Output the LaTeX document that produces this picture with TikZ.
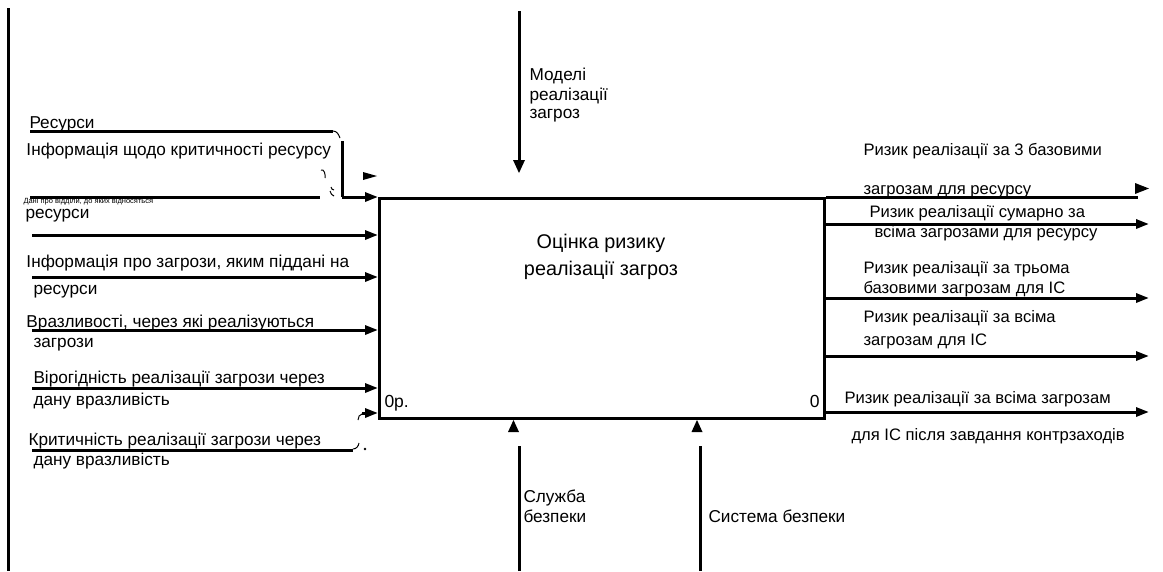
\documentclass[tikz,border=0pt]{standalone}
\usepackage{fontspec}
\setmainfont{Liberation Sans}
\usetikzlibrary{arrows.meta}
\begin{document}
\begin{tikzpicture}[x=1pt,y=-1pt,line width=3pt,
  lbl/.style={font=\fontsize{17.2}{19}\selectfont,inner sep=0pt,anchor=base west},
  rlbl/.style={font=\fontsize{16.6}{19}\selectfont,inner sep=0pt,anchor=base west},
  tiny/.style={font=\fontsize{7.5}{9}\selectfont,inner sep=0pt,anchor=base west},
  arr/.style={-{Triangle[length=13pt,width=9pt]}},
  thin/.style={line width=1pt}]
\useasboundingbox (0,0) rectangle (1163,571);

% left border line
\coordinate (lt) at (8,8);
\coordinate (lb) at (8,571);
\draw (lt) -- (lb);

% main box
\node[draw,line width=3pt,minimum width=445pt,minimum height=220pt,anchor=north west,inner sep=0pt] (box) at (378,197) {};
\node[font=\fontsize{19.8}{27}\selectfont,align=center,inner sep=0pt,anchor=base] (title) at (601,275) {Оцінка ризику\\реалізації загроз};
\node[lbl,font=\fontsize{17.5}{19}\selectfont] (num) at (383,407) {0р.};
\node[lbl,font=\fontsize{17.5}{19}\selectfont,anchor=base east] (num2) at (821,407) {0};

% top control
\coordinate (tc) at (519,11);
\coordinate (tce) at (519,161);
\draw (tc) -- (tce);
\fill (513,160) -- (525,160) -- (519,173) -- cycle;
\node[lbl] (m1) at (528,80) {Моделі};
\node[lbl] (m2) at (528,100) {реалізації};
\node[lbl] (m3) at (528,118) {загроз};

% bottom mechanisms
\coordinate (b1) at (519,571);
\coordinate (b1e) at (519,446);
\draw (b1) -- (b1e);
\fill (508,432) -- (519,432) -- (513.5,420) -- cycle;
\coordinate (b2) at (700,571);
\coordinate (b2e) at (700,446);
\draw (b2) -- (b2e);
\fill (691.5,432) -- (702.5,432) -- (697,420) -- cycle;
\node[lbl] (s1) at (522,502) {Служба};
\node[lbl] (s2) at (522,522) {безпеки};
\node[lbl] (s3) at (707,522) {Система безпеки};

% left inputs
\coordinate (i1) at (30,131);
\coordinate (i1c) at (333,131);
\draw (i1) -- (i1c);
\draw[thin] (333,131) to[out=0,in=110] (340,138);
\coordinate (v1) at (342,141);
\coordinate (v1e) at (342,197);
\draw (v1) -- (v1e);
\fill (363,172) -- (377,176) -- (363,180) -- cycle;
\draw[thin] (321,170) to[out=20,in=80] (325,178);
\draw[thin] (331,187) to[out=-80,in=180] (334,190);
\draw[thin] (330,191) to[out=-60,in=180] (334,196);
\coordinate (i2) at (30,197);
\coordinate (i2m) at (320,197);
\draw (i2) -- (i2m);
\draw[arr] (v1e) -- (v1e -| box.west);
\node[lbl] (r1) at (28,128) {Ресурси};
\node[lbl] (r2) at (25,155) {Інформація щодо критичності ресурсу};
\node[tiny] (r3) at (22,203) {Дані про відділи, до яких відносяться};
\node[lbl] (r4) at (24,218) {ресурси};

\coordinate (i3) at (32,235);
\draw[arr] (i3) -- (i3 -| box.west);

\node[lbl] (r5) at (25,267) {Інформація про загрози, яким піддані на};
\coordinate (i4) at (32,277);
\draw[arr] (i4) -- (i4 -| box.west);
\node[lbl] (r6) at (32,294) {ресурси};

\node[lbl] (r7) at (25,327) {Вразливості, через які реалізуються};
\coordinate (i5) at (32,330);
\draw[arr] (i5) -- (i5 -| box.west);
\node[lbl] (r8) at (32,347) {загрози};

\node[lbl] (r9) at (32,383) {Вірогідність реалізації загрози через};
\coordinate (i6) at (32,388);
\draw[arr] (i6) -- (i6 -| box.west);
\node[lbl] (r10) at (32,405) {дану вразливість};

\coordinate (i7) at (32,450);
\coordinate (i7e) at (353,450);
\draw (i7) -- (i7e);
\draw[thin] (353,449) to[out=0,in=-100] (359,443);
\fill (365,449) circle (1.3);
\coordinate (i7b) at (362,413);
\draw[thin] (358,420) to[out=80,in=180] (362,414);
\draw[arr] (i7b) -- (i7b -| box.west);
\node[lbl] (r11) at (27,445) {Критичність реалізації загрози через};
\node[lbl] (r12) at (32,465) {дану вразливість};

% right outputs
\coordinate (o1) at (1138,197);
\draw (box.north east) -- (o1);
\fill (1135,183) -- (1149,188.5) -- (1135,194) -- cycle;
\node[rlbl] (q1) at (862,155) {Ризик реалізації за 3 базовими};
\node[rlbl] (q2) at (862,194) {загрозам для ресурсу};

\coordinate (o2) at (1149,224);
\draw[arr] (o2 -| box.east) -- (o2);
\node[rlbl] (q3) at (868,217) {Ризик реалізації сумарно за};
\node[rlbl] (q4) at (873,237) {всіма загрозами для ресурсу};

\coordinate (o3) at (1149,298);
\draw[arr] (o3 -| box.east) -- (o3);
\node[rlbl] (q5) at (862,273) {Ризик реалізації за трьома};
\node[rlbl] (q6) at (862,293) {базовими загрозам для ІС};

\coordinate (o4) at (1149,356);
\draw[arr] (o4 -| box.east) -- (o4);
\node[rlbl] (q7) at (862,322) {Ризик реалізації за всіма};
\node[rlbl] (q8) at (862,345) {загрозам для ІС};

\coordinate (o5) at (1149,412);
\draw[arr] (o5 -| box.east) -- (o5);
\node[rlbl] (q9) at (843,403) {Ризик реалізації за всіма загрозам};
\node[rlbl] (q10) at (850,440) {для ІС після завдання контрзаходів};
\end{tikzpicture}
\end{document}
